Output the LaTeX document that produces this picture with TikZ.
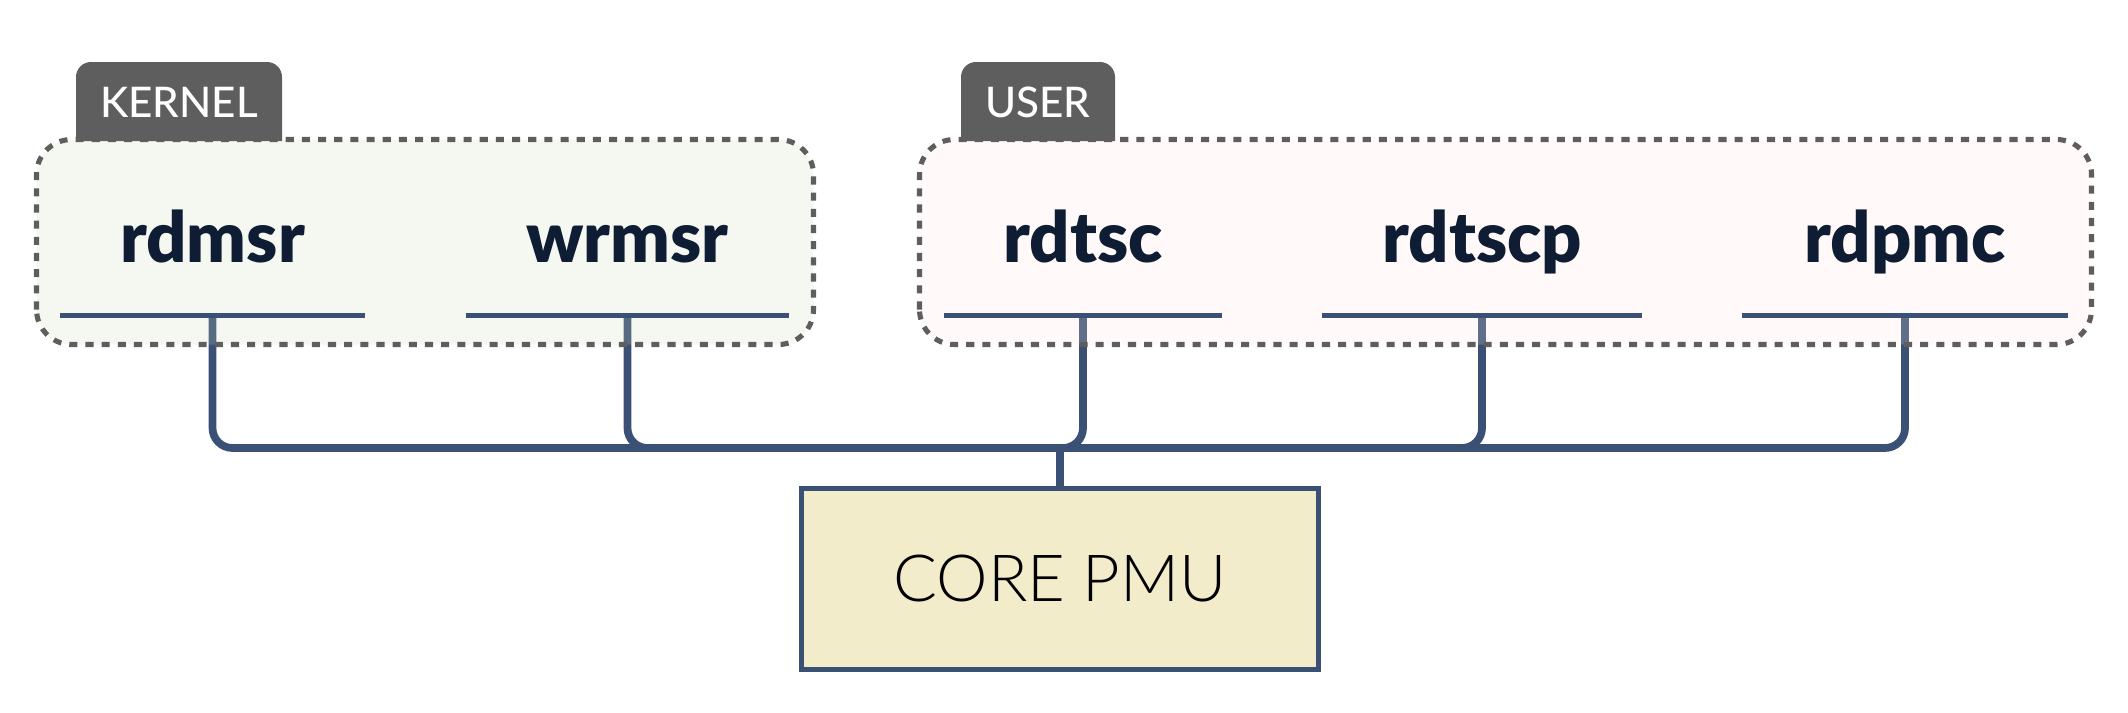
\documentclass[tikz,border=0pt]{standalone}
\usepackage{fontspec}
\setmainfont{Lato}
\IfFontExistsTF{Lato Light}{\newfontfamily\pmufont{Lato Light}}{\newfontfamily\pmufont{Lato}}
\IfFontExistsTF{Lato Black}{\newfontfamily\cmdfont{Lato Black}}{\newfontfamily\cmdfont{Lato}[UprightFont=*-Bold]}
\IfFontExistsTF{Lato Medium}{\newfontfamily\tabfont{Lato Medium}}{\newfontfamily\tabfont{Lato}}
\usetikzlibrary{positioning}

\definecolor{wirec}{HTML}{3A5075}
\definecolor{dotc}{HTML}{5E5E5E}
\definecolor{labelc}{HTML}{0E1D33}
\definecolor{kernelfill}{HTML}{CDDCB9}
\definecolor{userfill}{HTML}{FFE6E1}
\definecolor{pmufill}{HTML}{F2ECCB}

\pgfdeclarelayer{bg}
\pgfsetlayers{bg,main}

\begin{document}
\begin{tikzpicture}[
	wire/.style={draw=wirec, line width=2.2pt, rounded corners=0.2cm},
	uline/.style={draw=wirec, line width=1.45pt},
	group/.style={draw=dotc, line width=1.45pt, dash pattern=on 2.3pt off 2.3pt, rounded corners=0.35cm, fill opacity=0.2},
	tabc/.style={fill=dotc},
	tabtext/.style={text=white, font=\tabfont\fontsize{12}{14}\selectfont},
	cmd/.style={text=labelc, font=\cmdfont\fontsize{20}{24}\selectfont, anchor=base, inner sep=0pt, text depth=0.53cm},
	pmu/.style={draw=wirec, fill=pmufill, line width=1.45pt, minimum width=5.17cm, minimum height=1.81cm, font=\pmufont\fontsize{18.5}{22}\selectfont}
]
	\useasboundingbox (0,0) rectangle (21.28,7.12);
	%Kernel instructions
		\node[cmd, minimum width=3.03cm] (rdmsr) at (2.125,4.50) {rdmsr};
		\node[cmd, minimum width=3.21cm] (wrmsr) at (6.275,4.50) {wrmsr};
	%User instructions
		\node[cmd, minimum width=2.76cm] (rdtsc) at (10.83,4.50) {rdtsc};
		\node[cmd, minimum width=3.18cm] (rdtscp) at (14.82,4.50) {rdtscp};
		\node[cmd, minimum width=3.24cm] (rdpmc) at (19.05,4.50) {rdpmc};
	%Underlines
		\draw[uline] (rdmsr.south west) -- (rdmsr.south east);
		\draw[uline] (wrmsr.south west) -- (wrmsr.south east);
		\draw[uline] (rdtsc.south west) -- (rdtsc.south east);
		\draw[uline] (rdtscp.south west) -- (rdtscp.south east);
		\draw[uline] (rdpmc.south west) -- (rdpmc.south east);
	%Core PMU
		\node[pmu] (pmu) at (10.60,1.33) {CORE PMU};
		\coordinate (bus) at (10.60,2.64);
	%Kernel tab
		\fill[tabc] (0.76,5.71) [rounded corners=0.15cm] -- (0.76,6.50) -- (2.82,6.50) [sharp corners] -- (2.82,5.71) -- cycle;
		\node[tabtext] (kernel) at (1.79,6.10) {KERNEL};
	%User tab
		\fill[tabc] (9.61,5.71) [rounded corners=0.15cm] -- (9.61,6.50) -- (11.15,6.50) [sharp corners] -- (11.15,5.71) -- cycle;
		\node[tabtext] (user) at (10.38,6.10) {USER};
	\begin{pgfonlayer}{bg}
	%Wires to the bus
		\draw[wire] (rdmsr.south) |- (bus);
		\draw[wire] (wrmsr.south) |- (bus);
		\draw[wire] (rdtsc.south) |- (bus);
		\draw[wire] (rdtscp.south) |- (bus);
		\draw[wire] (rdpmc.south) |- (bus);
		\draw[wire] (bus) -- (pmu.north);
	%Groups
		\draw[group, fill=kernelfill] (0.365,3.675) rectangle (8.135,5.725);
		\draw[group, fill=userfill] (9.195,3.675) rectangle (20.915,5.725);
	\end{pgfonlayer}
\end{tikzpicture}
\end{document}
